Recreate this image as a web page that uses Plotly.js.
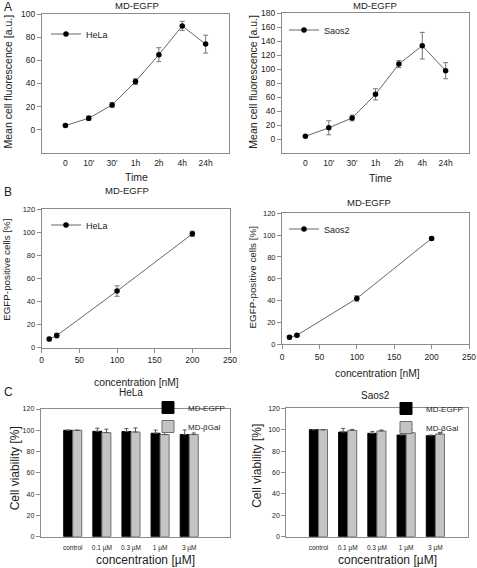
<!DOCTYPE html>
<html>
<head>
<meta charset="utf-8">
<script src="https://cdn.plot.ly/plotly-3.0.1.min.js"></script>
<style>html,body{margin:0;padding:0;background:#fff;}#chart{width:477px;height:568px;}</style>
</head>
<body>
<div id="chart"></div>
<script>
// ---- Data ----
const timeLabels = ['0', "10'", "30'", '1h', '2h', '4h', '24h'];
const helaFluor = [3.7, 10, 21.5, 41.7, 64.9, 89.7, 74];
const helaFluorErr = [1, 2, 2, 2.5, 6, 4, 7.7];
const saosFluor = [3.8, 16, 30, 63.8, 107, 133.3, 97.6];
const saosFluorErr = [1, 10, 4, 8, 5, 19, 11.5];

const concNM = [10, 20, 100, 200];
const helaPos = [7.5, 10.5, 49, 98.5];
const helaPosErr = [1.5, 2, 4.5, 2.3];
const saosPos = [6.4, 8.3, 42, 97];
const saosPosErr = [1.5, 1.5, 2.5, 1.5];

const viabCats = ['control', '0.1 µM', '0.3 µM', '1 µM', '3 µM'];
const helaEgfp = [100, 99, 98.8, 97.2, 96];
const helaEgfpErr = [null, 3, 2.8, 3, 4.3];
const helaGal = [100, 97.8, 98.4, 96, 96];
const helaGalErr = [null, 3.2, 3.8, 3, 1.5];
const saosEgfp = [100, 97.8, 96.6, 95, 94.4];
const saosEgfpErr = [null, 3.4, 1.8, 3.4, 0.6];
const saosGal = [100, 99.4, 98.8, 97.2, 96];
const saosGalErr = [null, 0.9, 0.9, 3.1, 1.5];

// ---- Styles ----
const FONT = 'Liberation Sans, Arial, sans-serif';
const TXT = '#222';
const FRAME = '#8c8c8c';
const W = 477, H = 568;
const px = v => v / W;
const py = v => 1 - v / H;

function lineTrace(x, y, err, name, xa, ya, leg) {
  return {
    type: 'scatter', mode: 'lines+markers', x: x, y: y, name: name,
    xaxis: xa, yaxis: ya, legend: leg,
    line: {color: '#666', width: 1},
    marker: {color: '#000', size: 5.5},
    error_y: {type: 'data', array: err, visible: true, color: '#777', thickness: 1, width: 2.5},
    cliponaxis: false
  };
}
function barTrace(x, y, err, name, xa, ya, leg, fill, edge) {
  return {
    type: 'bar', x: x, y: y, name: name, xaxis: xa, yaxis: ya, legend: leg,
    marker: {color: fill, line: {color: edge, width: 1}},
    error_y: {type: 'data', symmetric: false, array: err, arrayminus: err.map(() => 0),
              visible: true, color: '#555', thickness: 1, width: 2}
  };
}

const traces = [
  lineTrace(timeLabels, helaFluor, helaFluorErr, 'HeLa', 'x', 'y', 'legend'),
  lineTrace(timeLabels, saosFluor, saosFluorErr, 'Saos2', 'x2', 'y2', 'legend2'),
  lineTrace(concNM, helaPos, helaPosErr, 'HeLa', 'x3', 'y3', 'legend3'),
  lineTrace(concNM, saosPos, saosPosErr, 'Saos2', 'x4', 'y4', 'legend4'),
  barTrace(viabCats, helaEgfp, helaEgfpErr, 'MD-EGFP', 'x5', 'y5', 'legend5', '#000', '#000'),
  barTrace(viabCats, helaGal, helaGalErr, 'MD-βGal', 'x5', 'y5', 'legend5', '#c4c4c4', '#6e6e6e'),
  barTrace(viabCats, saosEgfp, saosEgfpErr, 'MD-EGFP', 'x6', 'y6', 'legend6', '#000', '#000'),
  barTrace(viabCats, saosGal, saosGalErr, 'MD-βGal', 'x6', 'y6', 'legend6', '#c4c4c4', '#6e6e6e')
];

function axis(domain, anchor, extra) {
  return Object.assign({
    domain: domain, anchor: anchor, showline: true, linecolor: FRAME, linewidth: 1,
    mirror: true, showgrid: false, zeroline: false, ticks: 'outside', ticklen: 4,
    tickcolor: FRAME, tickfont: {family: FONT, size: 8.5, color: TXT}, fixedrange: true
  }, extra);
}

const layout = {
  width: W, height: H, margin: {l: 0, r: 0, t: 0, b: 0},
  paper_bgcolor: '#fff', plot_bgcolor: '#fff',
  font: {family: FONT, color: TXT},
  showlegend: true,
  barmode: 'group', bargap: 0.38, bargroupgap: 0,
  // Panel A
  xaxis: axis([px(42), px(229)], 'y', {type: 'category', range: [-1, 7], ticks: '', ticklabelstandoff: 2}),
  yaxis: axis([py(153), py(14)], 'x', {range: [-20, 100], tickvals: [0, 20, 40, 60, 80, 100]}),
  xaxis2: axis([px(282), px(469)], 'y2', {type: 'category', range: [-1, 7], ticks: '', ticklabelstandoff: 2}),
  yaxis2: axis([py(153), py(13)], 'x2', {range: [-20, 180], tickvals: [0, 20, 40, 60, 80, 100, 120, 140, 160, 180]}),
  // Panel B
  xaxis3: axis([px(41.7), px(230)], 'y3', {range: [0, 250], tickvals: [0, 50, 100, 150, 200, 250]}),
  yaxis3: axis([py(347.7), py(209)], 'x3', {range: [0, 120], dtick: 20, tickfont: {family: FONT, size: 7.5, color: TXT}}),
  xaxis4: axis([px(282), px(469)], 'y4', {range: [0, 250], tickvals: [0, 50, 100, 150, 200, 250]}),
  yaxis4: axis([py(344.3), py(213.3)], 'x4', {range: [0, 120], dtick: 20, tickfont: {family: FONT, size: 7.5, color: TXT}}),
  // Panel C
  xaxis5: axis([px(40.7), px(230)], 'y5', {type: 'category', range: [-1.1, 5.4], ticks: '', ticklabelstandoff: 4, tickfont: {family: FONT, size: 6.5, color: TXT}}),
  yaxis5: axis([py(536.7), py(409)], 'x5', {range: [0, 120], dtick: 20, tickfont: {family: FONT, size: 7, color: TXT}}),
  xaxis6: axis([px(286.3), px(467.5)], 'y6', {type: 'category', range: [-1.1, 5.1], ticks: '', ticklabelstandoff: 4, tickfont: {family: FONT, size: 6.5, color: TXT}}),
  yaxis6: axis([py(536.7), py(408.3)], 'x6', {range: [0, 120], dtick: 20, tickfont: {family: FONT, size: 7, color: TXT}}),
  legend:  {x: px(46), y: py(34), xanchor: 'left', yanchor: 'middle', bgcolor: 'rgba(0,0,0,0)', font: {family: FONT, size: 9, color: TXT}},
  legend2: {x: px(284), y: py(30), xanchor: 'left', yanchor: 'middle', bgcolor: 'rgba(0,0,0,0)', font: {family: FONT, size: 9, color: TXT}},
  legend3: {x: px(46), y: py(225), xanchor: 'left', yanchor: 'middle', bgcolor: 'rgba(0,0,0,0)', font: {family: FONT, size: 9, color: TXT}},
  legend4: {x: px(284), y: py(229), xanchor: 'left', yanchor: 'middle', bgcolor: 'rgba(0,0,0,0)', font: {family: FONT, size: 9, color: TXT}},
  legend5: {x: px(230), y: py(393), xanchor: 'right', yanchor: 'top', bgcolor: 'rgba(0,0,0,0)', tracegroupgap: 0, font: {family: FONT, size: 8, color: TXT}},
  legend6: {x: px(468), y: py(394), xanchor: 'right', yanchor: 'top', bgcolor: 'rgba(0,0,0,0)', tracegroupgap: 0, font: {family: FONT, size: 8, color: TXT}},
  annotations: []
};

function ann(text, x, y, size, extra) {
  layout.annotations.push(Object.assign({
    text: text, xref: 'paper', yref: 'paper', x: px(x), y: py(y),
    xanchor: 'center', yanchor: 'middle', showarrow: false,
    font: {family: FONT, size: size, color: TXT}
  }, extra || {}));
}
// panel letters
ann('A', 2, 6.5, 12, {xanchor: 'left'});
ann('B', 2, 191.7, 12, {xanchor: 'left'});
ann('C', 2, 391.7, 12, {xanchor: 'left'});
// subplot titles
ann('MD-EGFP', 137, 6, 9.5);
ann('MD-EGFP', 375, 6, 9.5);
ann('MD-EGFP', 126.7, 190, 9.5);
ann('MD-EGFP', 368.5, 202.7, 9.5);
ann('HeLa', 131, 392.7, 10);
ann('Saos2', 375, 395, 10);
// x axis titles
ann('Time', 136.7, 177, 10.5);
ann('Time', 380, 177.5, 10.5);
ann('concentration [nM]', 136.7, 382, 10.3);
ann('concentration [nM]', 377, 373.3, 10.3);
ann('concentration [µM]', 145, 559.5, 12);
ann('concentration [µM]', 387.7, 559.5, 12);
// y axis titles
ann('Mean cell fluorescence [a.u.]', 7, 81.5, 10.5, {textangle: -90});
ann('Mean cell fluorescence [a.u.]', 253, 81.7, 10.5, {textangle: -90});
ann('EGFP-positive cells [%]', 7, 269.8, 9.8, {textangle: -90});
ann('EGFP-positive cells [%]', 252, 277.5, 9.8, {textangle: -90});
ann('Cell viability [%]', 15, 468.3, 12, {textangle: -90});
ann('Cell viability [%]', 257, 465.8, 12, {textangle: -90});

Plotly.newPlot('chart', traces, layout, {displayModeBar: false, staticPlot: true});
</script>
</body>
</html>
